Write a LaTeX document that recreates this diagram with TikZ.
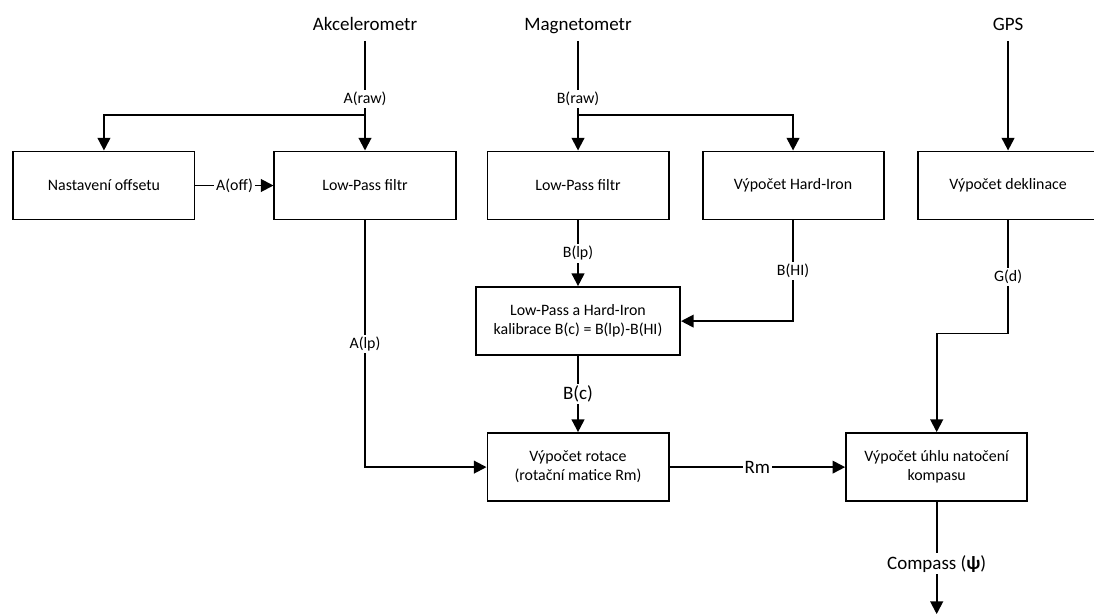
\documentclass[tikz,border=0pt]{standalone}
\usepackage{fontspec}
\setmainfont{Carlito}
\usetikzlibrary{arrows.meta, positioning}

\begin{document}
\begin{tikzpicture}[
    x=0.025cm, y=-0.025cm,
    box/.style={rectangle, draw=black, fill=white, line width=1.4pt, minimum width=4.525cm, minimum height=1.7cm, align=center, font=\fontsize{11.3}{13.5}\selectfont},
    src/.style={inner sep=5pt, text height=0.75em, text depth=0.2em, font=\fontsize{13.5}{15}\selectfont},
    tag/.style={fill=white, inner sep=1.5pt, font=\fontsize{11.3}{13}\selectfont},
    bigtag/.style={tag, font=\fontsize{13.5}{15}\selectfont},
    wire/.style={line width=1.4pt},
    arrow/.style={wire, -{Triangle[length=9pt, width=9pt]}}
]
\useasboundingbox (0,0) rectangle (1094,613);
\clip (0,0) rectangle (1094,613);

% Main boxes
\node[box] (lpa) at (365,185.5) {Low-Pass filtr};
\node[box, left=1.95cm of lpa] (offset) {Nastavení offsetu};
\node[box, right=0.75cm of lpa] (lpb) {Low-Pass filtr};
\node[box, right=0.8cm of lpb] (hardiron) {Výpočet Hard-Iron};
\node[box, right=0.8cm of hardiron] (deklinace) {Výpočet deklinace};
\node[box, below=1.64cm of lpb, minimum width=5.1cm] (kalibrace) {Low-Pass a Hard-Iron\\kalibrace B(c) = B(lp)-B(HI)};
\node[box, below=1.9cm of kalibrace] (rotace) {Výpočet rotace\\(rotační matice Rm)};
\node[box, right=4.39cm of rotace] (kompas) {Výpočet úhlu natočení\\kompasu};

% Sensors
\node[src] (akc) at (365,27) {Akcelerometr};
\node[src] (mag) at (lpb |- akc) {Magnetometr};
\node[src] (gps) at (deklinace |- akc) {GPS};

% Branch points and output end
\coordinate (asplit) at (365,115);
\coordinate (bsplit) at (lpb |- asplit);
\path (kompas.south) ++(0,112) coordinate (ende);

% Arrows with labels
\draw[wire] (akc) -- node[tag, pos=0.78] {A(raw)} (asplit);
\draw[arrow] (asplit) -- (lpa);
\draw[arrow] (asplit) -| (offset);
\draw[wire] (mag) -- node[tag, pos=0.78] {B(raw)} (bsplit);
\draw[arrow] (bsplit) -- (lpb);
\draw[arrow] (bsplit) -| (hardiron);
\draw[arrow] (gps) -- (deklinace);
\draw[arrow] (offset) -- node[tag] {A(off)} (lpa);
\draw[arrow] (lpa) |- node[tag, pos=0.25] {A(lp)} (rotace);
\draw[arrow] (lpb) -- node[tag] {B(lp)} (kalibrace);
\draw[arrow] (hardiron) |- node[tag, pos=0.25] {B(HI)} (kalibrace);
\draw[arrow] (kalibrace) -- node[bigtag] {B(c)} (rotace);
\draw[arrow] (rotace) -- node[bigtag] {Rm} (kompas);
\draw[arrow] (deklinace.south) -- node[tag] {G(d)} ++(0,113) -| (kompas);
\draw[arrow] (kompas) -- node[bigtag, pos=0.55] {Compass ({\bfseries ψ})} (ende);

\end{tikzpicture}
\end{document}
